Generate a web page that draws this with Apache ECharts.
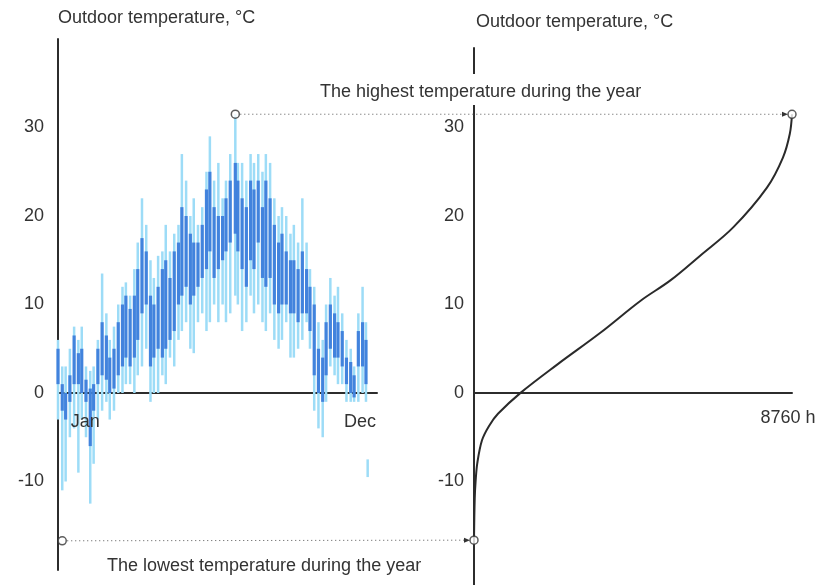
<!DOCTYPE html>
<html><head><meta charset="utf-8">
<script src="https://cdn.jsdelivr.net/npm/echarts@6/dist/echarts.min.js"></script>
<style>html,body{margin:0;padding:0;background:#fff}#c{width:816px;height:585px}</style>
</head><body><div id="c"></div>
<script>
// ---- Data ----
// Left panel: hourly temperatures summarised per ~5-day column (day of year)
const dayPos = [0,5,9,14,19,24,28,33,38,42,47,52,57,61,66,71,76,80,85,90,94,99,104,109,113,118,123,127,132,137,142,146,151,156,160,165,170,175,179,184,189,194,198,203,209,212,217,222,227,231,236,241,245,250,255,260,264,269,274,278,283,288,293,297,302,307,312,316,321,326,330,335,340,345,349,354,359,363,365];
const lowTemp  = [-3,-11,-10,-5,-4,-9,-3,-5,-12.5,-8,-3,-2,-1,-3,-2,0,0,1,1,0,2,3,5,-1,0,0,2,1,4,3,6,7,8,5,4.5,8,9,7,8,10,8,10,8,9,11,10,7,8,11,9,10,8,7,9,6,5,6,8,4,4,5,6,8,5,-2,-4,-5,-1,3,2,1,1,-1,-1,-1,-1,0,-1,-9.5];
const highTemp = [6,3,3,5,7.5,6,7.5,3,2.5,3,6,13.5,9,6,7.5,10,12,12.5,11,14,17,22,19,15,13,15.5,16,19,16,18,19,27,24,20,22,19,21,25,29,24,26,22,24,27,31.5,26,26,24,27,26,27,25,27,26,22,20,21,20,18,19,17,22,17,14,12,8,6,10,13,11,12,9,6,5,3,9,12,8,-7.5];
const coreLow  = [1,-2,-3,-1,1,1,0,-1,-6,-2,1,2,1.5,0,0.5,2,3,4,3,4,6,9,10,3,4,5,4,5,6,7,10,11,12,10,11,12,13,14,16,13,14,15,16,17,18,16,14,12,15,14,17,13,12,13,10,9,10,10,9,9,8,9,9,7,2,0,-1,2,5,4,4,3,1,0,-0.5,3,3,1,null];
const coreHigh = [5,1,0,2,6.5,4.5,5,1.5,0.5,1,5,8,6.5,4,5,8,10,11,9.5,11,14,17.5,16,11,10,12,14,15,13,16,17,21,20,18,17,17,19,23,25,21,20,20,22,24,26,24,22,21,24,23,24,21,24,22,19,17,18,16,15,15,14,16,14,12,10,5,4,8,10,9,8,7,4,3.5,2,7,8,6,null];
const maxPoint = [209, 31.5];   // highest temperature during the year
const minPoint = [5, -16.7];    // lowest temperature during the year
const monthLabelDays = [32, 356];
const monthLabels = ['Jan', 'Dec'];
// Right panel: duration curve (hours per year vs temperature)
const durationHours = [0,20,45,90,220,410,660,1290,2300,3490,4590,5410,6230,7140,8070,8510,8700,8760];
const durationTemps = [-16.7,-12,-10,-8,-5.4,-3.8,-2.4,0,3.2,6.8,10.4,12.7,15.5,18.7,23.2,26.6,29.3,31.5];
const hoursPerYear = 8760;
const yTicks = [-10, 0, 10, 20, 30];
const yAxisTitle = 'Outdoor temperature, \u00B0C';
const highestText = 'The highest temperature during the year';
const lowestText = 'The lowest temperature during the year';

// ---- Chart ----
const FONT = '"Liberation Sans", Arial, sans-serif';
const TXT = '#333';
const AX = '#2c2c2c';
const chart = echarts.init(document.getElementById('c'), null, {renderer: 'canvas'});

function rangeRenderer(width, fill, opacity) {
  return function (params, api) {
    const lo = api.value(1), hi = api.value(2);
    if (lo == null || hi == null || isNaN(lo) || isNaN(hi)) return null;
    const top = api.coord([api.value(0), hi]);
    const bot = api.coord([api.value(0), lo]);
    return {type: 'rect', shape: {x: top[0] - width / 2, y: top[1], width: width, height: Math.max(1, bot[1] - top[1])},
      style: {fill: fill, opacity: opacity}};
  };
}

const yAxisCommon = {
  type: 'value',
  axisLine: {show: true, lineStyle: {color: AX, width: 2}},
  axisTick: {show: false},
  splitLine: {show: false},
  axisLabel: {customValues: yTicks, fontSize: 18, color: TXT, fontFamily: FONT}
};
const xAxisCommon = {
  type: 'value',
  axisLine: {show: true, onZero: true, lineStyle: {color: AX, width: 2}},
  axisTick: {show: false}, splitLine: {show: false}, axisLabel: {show: false}
};

chart.setOption({
  animation: false,
  backgroundColor: '#fff',
  grid: [
    {left: 58, top: 39, width: 319, height: 531, containLabel: false, outerBoundsMode: 'none'},
    {left: 474, top: 48, width: 318, height: 539, containLabel: false, outerBoundsMode: 'none'}
  ],
  xAxis: [
    Object.assign({}, xAxisCommon, {gridIndex: 0, min: 0, max: 376}),
    Object.assign({}, xAxisCommon, {gridIndex: 1, min: 0, max: hoursPerYear})
  ],
  yAxis: [
    Object.assign({}, yAxisCommon, {gridIndex: 0, min: -20, max: 40,
      axisLabel: Object.assign({}, yAxisCommon.axisLabel, {margin: 14})}),
    Object.assign({}, yAxisCommon, {gridIndex: 1, min: -22, max: 39,
      axisLabel: Object.assign({}, yAxisCommon.axisLabel, {margin: 10})})
  ],
  series: [
    {type: 'custom', xAxisIndex: 0, yAxisIndex: 0, z: 2,
      renderItem: rangeRenderer(2.5, '#9ddcf7', 1),
      encode: {x: 0, y: [1, 2]},
      data: dayPos.map((d, i) => [d, lowTemp[i], highTemp[i]])},
    {type: 'custom', xAxisIndex: 0, yAxisIndex: 0, z: 3,
      renderItem: rangeRenderer(3.2, '#3a7bda', 0.92),
      encode: {x: 0, y: [1, 2]},
      data: dayPos.map((d, i) => [d, coreLow[i], coreHigh[i]])},
    {type: 'scatter', xAxisIndex: 0, yAxisIndex: 0, z: 5, symbol: 'circle', symbolSize: 8,
      itemStyle: {color: '#fff', borderColor: '#333', borderWidth: 1.5},
      data: [maxPoint, minPoint]},
    {type: 'line', xAxisIndex: 1, yAxisIndex: 1, z: 4, smooth: 0.35, showSymbol: false,
      lineStyle: {color: '#2a2a2a', width: 2},
      data: durationHours.map((h, i) => [h, durationTemps[i]])},
    {type: 'scatter', xAxisIndex: 1, yAxisIndex: 1, z: 5, symbol: 'circle', symbolSize: 8,
      itemStyle: {color: '#fff', borderColor: '#333', borderWidth: 1.5},
      data: [[hoursPerYear, maxPoint[1]], [0, minPoint[1]]]}
  ]
});

const pMaxL = chart.convertToPixel({xAxisIndex: 0, yAxisIndex: 0}, maxPoint);
const pMinL = chart.convertToPixel({xAxisIndex: 0, yAxisIndex: 0}, minPoint);
const pMaxR = chart.convertToPixel({xAxisIndex: 1, yAxisIndex: 1}, [hoursPerYear, maxPoint[1]]);
const pMinR = chart.convertToPixel({xAxisIndex: 1, yAxisIndex: 1}, [0, minPoint[1]]);

function connector(a, b) {
  const tipX = b[0] - 4;
  return [
    {type: 'line', z: 50, shape: {x1: a[0] + 5, y1: a[1], x2: tipX - 5, y2: b[1]},
      style: {stroke: '#555', lineWidth: 1, lineDash: [1, 3]}},
    {type: 'polygon', z: 50, shape: {points: [[tipX, b[1]], [tipX - 6, b[1] - 2.5], [tipX - 6, b[1] + 2.5]]},
      style: {fill: '#333'}}
  ];
}

const textStyle = (t) => ({text: t, fontSize: 18, fill: TXT, fontFamily: FONT});
// axis labels placed at their axis values (x axis drawn on zero line)
const axisTexts = [];
monthLabelDays.forEach((d, i) => {
  const p = chart.convertToPixel({xAxisIndex: 0, yAxisIndex: 0}, [d, 0]);
  axisTexts.push({type: 'text', x: p[0], y: p[1] + 20, z: 60,
    style: Object.assign(textStyle(monthLabels[i]), {align: 'center', verticalAlign: 'top'})});
});
const pH = chart.convertToPixel({xAxisIndex: 1, yAxisIndex: 1}, [hoursPerYear, 0]);
axisTexts.push({type: 'text', x: pH[0] - 4, y: pH[1] + 16, z: 60,
  style: Object.assign(textStyle(hoursPerYear + ' h'), {align: 'center', verticalAlign: 'top'})});

chart.setOption({
  graphic: [].concat(
    connector(pMaxL, pMaxR),
    connector(pMinL, pMinR),
    axisTexts,
    [
      {type: 'text', left: 58, top: 9, z: 60, style: textStyle(yAxisTitle)},
      {type: 'text', left: 476, top: 13, z: 60, style: textStyle(yAxisTitle)},
      {type: 'text', left: 318, top: 74, z: 60,
        style: Object.assign(textStyle(highestText), {backgroundColor: '#fff', padding: [9, 2, 4, 2]})},
      {type: 'text', left: 107, top: 557, z: 60, style: textStyle(lowestText)}
    ]
  )
});
</script>
</body></html>
